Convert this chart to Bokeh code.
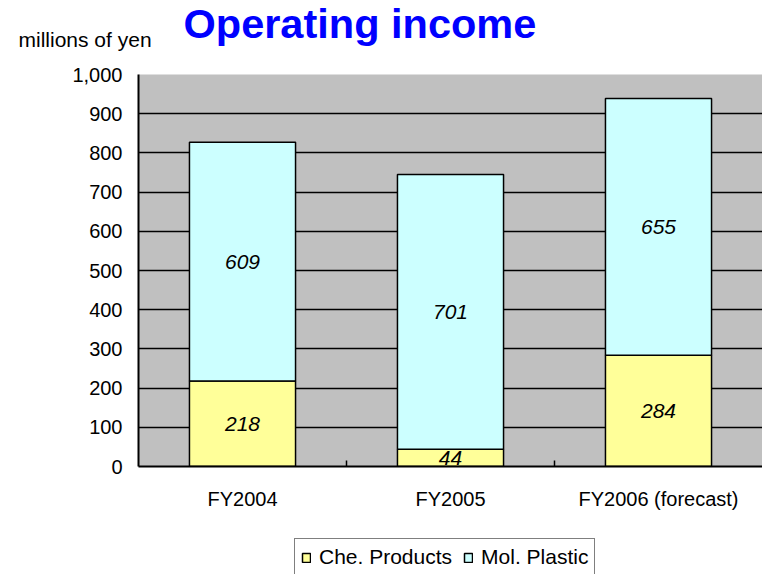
from bokeh.plotting import figure
from bokeh.layouts import column
from bokeh.models import (ColumnDataSource, Range1d, FixedTicker, NumeralTickFormatter,
                          Label)
from bokeh.core.properties import value
from bokeh.embed import file_html
from bokeh.resources import INLINE

title_text = "Operating income"
unit_text = "millions of yen"
years = ["FY2004", "FY2005", "FY2006 (forecast)"]
che_products = [218, 44, 284]
mol_plastic = [609, 701, 655]
series_fields = ["che", "mol"]
series_names = ["Che. Products", "Mol. Plastic"]
series_colors = ["#FFFF99", "#CCFFFF"]
y_ticks = [0, 100, 200, 300, 400, 500, 600, 700, 800, 900, 1000]

FONT = "Liberation Sans"
W = 762
HEAD_H = 62
LEG_H = 60
MAIN_H = 574 - HEAD_H - LEG_H


def blank(height):
    f = figure(width=W, height=height, output_backend="svg", toolbar_location=None,
               x_range=Range1d(0, W), y_range=Range1d(height, 0),
               x_axis_type=None, y_axis_type=None, min_border=0)
    f.outline_line_color = None
    f.grid.grid_line_color = None
    f.background_fill_color = "white"
    f.border_fill_color = "white"
    f.frame_align = False
    return f


# ---- header (title + unit) ----
head = blank(HEAD_H)
head.add_layout(Label(x=183, y=23, text=title_text, text_font=FONT,
                      text_font_size="41.5px", text_font_style="bold",
                      text_color="#0000FF", text_baseline="middle"))
head.add_layout(Label(x=18, y=39, text=unit_text, text_font=FONT,
                      text_font_size="21px", text_color="black",
                      text_baseline="middle"))

# ---- main chart ----
xs = [i + 0.5 for i in range(len(years))]
source = ColumnDataSource(dict(
    x=xs,
    che=che_products,
    mol=mol_plastic,
    che_mid=[c / 2 for c in che_products],
    mol_mid=[c + m / 2 for c, m in zip(che_products, mol_plastic)],
    che_txt=[str(c) for c in che_products],
    mol_txt=[str(m) for m in mol_plastic],
))

p = figure(width=W, height=MAIN_H, output_backend="svg", toolbar_location=None,
           x_range=Range1d(0, 3.0), y_range=Range1d(0, 1000),
           min_border_left=138, min_border_top=12, min_border_bottom=MAIN_H - 404,
           min_border_right=0)
p.frame_align = False
p.background_fill_color = "#C0C0C0"
p.border_fill_color = "white"
p.outline_line_color = None

p.vbar_stack(series_fields, x="x", width=0.51, source=source,
             fill_color=series_colors, line_color="black", line_width=1.5)

for ycol, tcol in (("che_mid", "che_txt"), ("mol_mid", "mol_txt")):
    p.text(x="x", y=ycol, text=tcol, source=source, text_align="center",
           text_baseline="middle", text_font=value(FONT), text_font_size=value("21px"),
           text_font_style="italic", text_color="black")

# y axis
p.yaxis.ticker = FixedTicker(ticks=y_ticks)
p.yaxis.formatter = NumeralTickFormatter(format="0,0")
p.yaxis.major_tick_line_color = None
p.yaxis.minor_tick_line_color = None
p.yaxis.axis_line_color = "black"
p.yaxis.axis_line_width = 2
p.yaxis.major_label_text_font = FONT
p.yaxis.major_label_text_font_size = "20px"
p.yaxis.major_label_text_color = "black"
p.yaxis.major_label_standoff = 10

# x axis
p.xaxis.ticker = FixedTicker(ticks=xs, minor_ticks=[1, 2])
p.xaxis.major_label_overrides = {x: y for x, y in zip(xs, years)}
p.xaxis.major_tick_line_color = None
p.xaxis.minor_tick_line_color = "black"
p.xaxis.minor_tick_line_width = 1.5
p.xaxis.minor_tick_in = 6
p.xaxis.minor_tick_out = 0
p.xaxis.axis_line_color = "black"
p.xaxis.axis_line_width = 2
p.xaxis.major_label_text_font = FONT
p.xaxis.major_label_text_font_size = "20px"
p.xaxis.major_label_text_color = "black"
p.xaxis.major_label_standoff = 15

p.xgrid.grid_line_color = None
p.ygrid.ticker = FixedTicker(ticks=y_ticks)
p.ygrid.grid_line_color = "black"
p.ygrid.grid_line_width = 1.5

# ---- legend strip (its renderers are hidden; only the legend shows) ----
lf = blank(LEG_H)
for field, name, col in zip(series_fields, series_names, series_colors):
    lf.vbar(x="x", top=field, width=0.51, source=source, visible=False,
            fill_color=col, line_color="black", line_width=1.5, legend_label=name)
leg = lf.legend[0]
leg.orientation = "horizontal"
leg.click_policy = "none"
leg.location = (294, -2)
leg.label_text_font = FONT
leg.label_text_font_size = "21px"
leg.label_text_color = "black"
leg.label_height = 20
leg.glyph_height = 11
leg.glyph_width = 10
leg.label_standoff = 8
leg.spacing = 11
leg.padding = 6
leg.margin = 0
leg.border_line_color = "black"
leg.border_line_width = 1.5
leg.background_fill_color = "white"
leg.background_fill_alpha = 1
leg.inactive_fill_alpha = 0

layout = column(head, p, lf, spacing=0)
open("out.html", "w").write(file_html(layout, INLINE))
